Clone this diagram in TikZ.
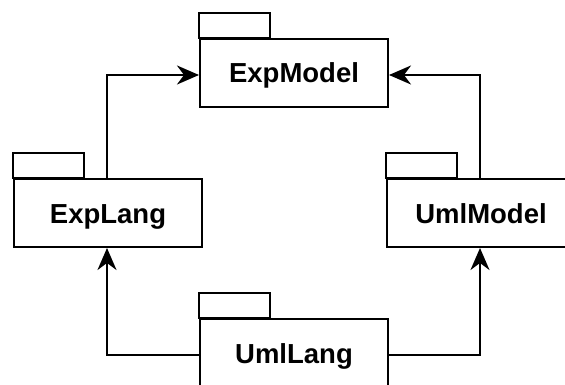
\documentclass[tikz,border=0pt]{standalone}
\usepackage{fontspec}
\setmainfont{Liberation Sans}
\usetikzlibrary{arrows.meta}
\begin{document}
\begin{tikzpicture}[x=1pt,y=-1pt,
  line width=2pt,
  pkg/.style={draw, fill=white, rectangle, minimum width=188pt, minimum height=68pt,
    inner sep=0pt, text height=20pt, text depth=0pt,
    font=\fontsize{27.5}{33}\selectfont\bfseries},
  tab/.style={draw, fill=white},
  dep/.style={-{Stealth[length=22pt,width=19pt,inset=7pt]}}]
\useasboundingbox (0,0) rectangle (565,385);

% package bodies
\node[pkg] (ExpModel) at (294,73) {ExpModel};
\node[pkg] (ExpLang)  at (108,213) {ExpLang};
\node[pkg] (UmlModel) at (481,213) {UmlModel};
\node[pkg] (UmlLang)  at (294,353) {UmlLang};

% package tabs
\foreach \p in {ExpModel,ExpLang,UmlModel,UmlLang}
  \draw[tab] (\p.north west) rectangle ++(71,-25);

% dependencies
\draw[dep] ([xshift=-1pt]ExpLang.north) |- ([yshift=-2pt]ExpModel.west);
\draw[dep] ([xshift=-1pt]UmlModel.north) |- ([yshift=-2pt]ExpModel.east);
\draw[dep] ([yshift=-2pt]UmlLang.west) -| ([xshift=-1pt]ExpLang.south);
\draw[dep] ([yshift=-2pt]UmlLang.east) -| ([xshift=-1pt]UmlModel.south);
\end{tikzpicture}
\end{document}
